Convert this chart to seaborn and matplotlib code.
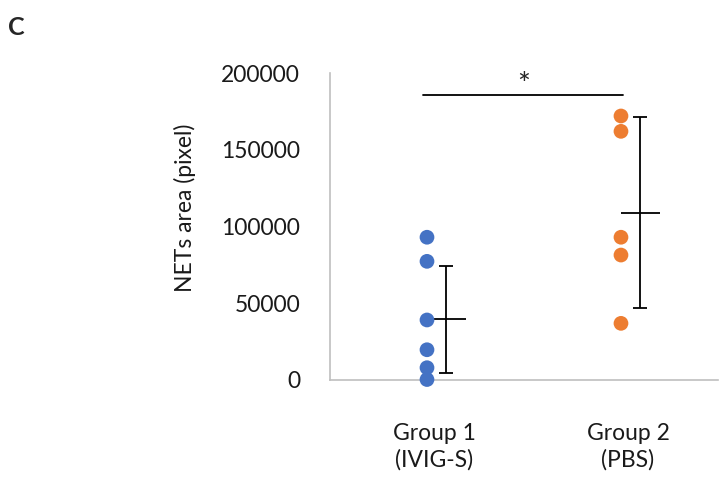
import numpy as np
import pandas as pd
import matplotlib
matplotlib.use('Agg')
import matplotlib.pyplot as plt
import matplotlib.transforms as mtransforms
import seaborn as sns

sns.set_theme(style='white')
plt.rcParams['font.family'] = ['Lato', 'DejaVu Sans']

# data
groups = ['Group 1\n(IVIG-S)', 'Group 2\n(PBS)']
group1_vals = [93000, 77300, 39100, 19700, 8000, 300]
group2_vals = [172000, 162000, 93000, 81400, 36900]
sd_vals = [34800, 62400]
colors = ['#4472C4', '#ED7D31']
y_ticks = [0, 50000, 100000, 150000, 200000]

df = pd.DataFrame({
    'group': [groups[0]] * len(group1_vals) + [groups[1]] * len(group2_vals),
    'area': group1_vals + group2_vals,
})
means = df.groupby('group', sort=False)['area'].mean().values

fig = plt.figure(figsize=(7.21, 4.91), dpi=100)
ax = fig.add_axes([0.4577, 0.2261, 0.5381, 0.6252])

sns.stripplot(data=df, x='group', y='area', hue='group', palette=colors,
              jitter=False, size=10.6, linewidth=0, legend=False, ax=ax, zorder=3)
for coll in ax.collections:
    coll.set_clip_on(False)

pos = np.arange(len(groups))
ax.errorbar(pos + 0.1, means, yerr=sd_vals, fmt='none', ecolor='black',
            elinewidth=1.3, capsize=5, capthick=1.3, zorder=2)
ax.hlines(means, pos, pos + 0.2, colors='black', linewidth=1.3, zorder=2)

# significance bar
ax.plot([pos[0] - 0.02, pos[1] + 0.01], [185500, 185500], color='black', lw=1.3, clip_on=False)
ax.text((pos[0] + pos[1]) / 2, 192500, '*', ha='center', va='center', fontsize=22, clip_on=False)

txt = '#1a1a1a'
ax.set_xlim(-0.5, 1.5)
ax.set_ylim(0, 200000)
ax.set_yticks(y_ticks)
ax.set_yticklabels([str(t) for t in y_ticks], fontsize=16.5, color=txt)
ax.tick_params(axis='y', length=0, pad=21.5)
ax.tick_params(axis='x', length=0, pad=31, labelsize=16.5, labelcolor=txt)
for lbl in ax.get_xticklabels():
    lbl.set_linespacing(1.3)
    lbl.set_transform(lbl.get_transform() + mtransforms.ScaledTranslation(0.07, 0, fig.dpi_scale_trans))
ax.set_xlabel('')
ax.set_ylabel('NETs area (pixel)', fontsize=16.5, color=txt)
ax.yaxis.set_label_coords(-0.345, 0.56)

for side in ['top', 'right']:
    ax.spines[side].set_visible(False)
for side in ['left', 'bottom']:
    ax.spines[side].set_color('#BFBFBF')
    ax.spines[side].set_linewidth(1.2)

fig.text(0.022, 0.945, 'C', fontsize=18, fontweight='bold', ha='center', va='center')

fig.savefig('out.png', dpi=100)
